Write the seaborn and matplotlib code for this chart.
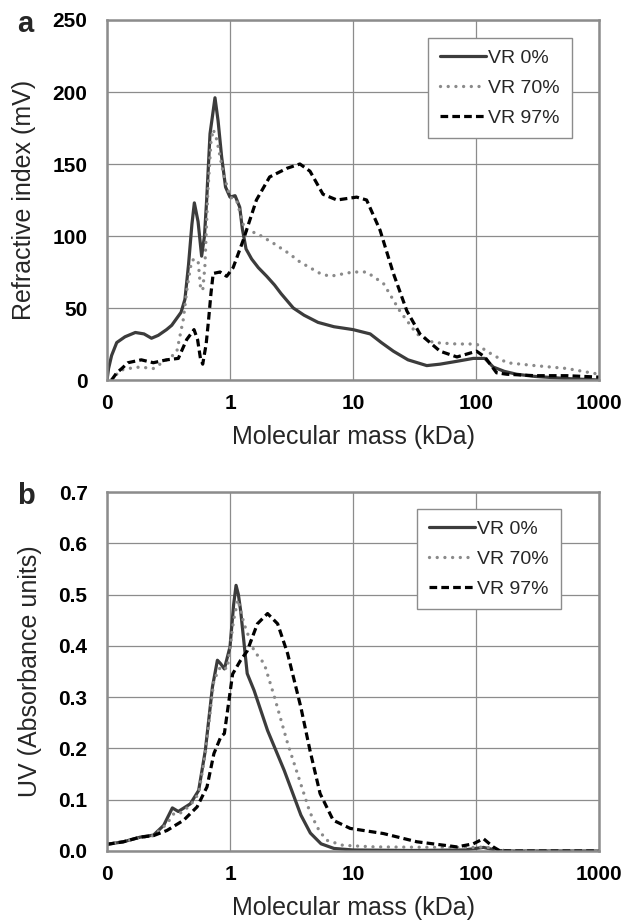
import matplotlib
matplotlib.use("Agg")
import matplotlib.pyplot as plt
import seaborn as sns
import numpy as np
from matplotlib.ticker import FixedLocator, FixedFormatter, MultipleLocator, FuncFormatter

# ---------------- data ----------------
series_labels = ["VR 0%", "VR 70%", "VR 97%"]
x_tick_values = [0.1, 1, 10, 100, 1000]
x_tick_labels = ["0", "1", "10", "100", "1000"]

# Panel a: refractive index (mV)
a_mass_0 = [0.1, 0.103, 0.109, 0.12, 0.14, 0.17, 0.2, 0.23, 0.261, 0.305, 0.336, 0.40, 0.43,
            0.46, 0.49, 0.513, 0.55, 0.588, 0.62, 0.646, 0.688, 0.755, 0.8, 0.855, 0.92, 1.0,
            1.1, 1.2, 1.26, 1.35, 1.5, 1.7, 1.99, 2.3, 2.6, 3.27, 4.0, 5.2, 7.0, 10.0, 13.8, 17.0,
            21.3, 28.0, 39.8, 51.0, 70.0, 95.0, 118.0, 138.0, 170.0, 214.0, 300.0, 546.0, 1000.0]
a_ri_0 = [0, 8, 17, 26, 30, 33, 32, 29, 31, 35, 38, 47, 56,
          80, 108, 123, 110, 86, 100, 125, 171, 196, 180, 155, 134, 127,
          128, 120, 105, 91, 84, 78, 72, 66, 60, 50, 45, 40, 37, 35, 32, 26,
          20, 14, 10, 11, 13, 15, 15, 9, 6, 4, 2.5, 1, 0]

a_mass_70 = [0.109, 0.12, 0.132, 0.15, 0.185, 0.238, 0.305, 0.368, 0.417, 0.45, 0.488, 0.52,
             0.55, 0.575, 0.6, 0.625, 0.66, 0.7, 0.73, 0.78, 0.88, 1.0, 1.13, 1.32, 1.64, 2.25,
             3.0, 3.7, 5.4, 6.5, 10.0, 12.9, 17.7, 24.0, 33.0, 45.0, 70.0, 101.0, 122.0, 178.0,
             300.0, 546.0, 1000.0]
a_ri_70 = [0, 4, 7, 8, 9, 8, 14, 19, 42, 65, 83, 84,
           83, 65, 62, 79, 130, 165, 174, 167, 144, 127, 125, 104, 102, 95,
           88, 82, 74, 72, 75, 75, 67, 48, 32, 26, 25, 25, 20, 12,
           10, 8, 4]

a_mass_97 = [0.109, 0.12, 0.132, 0.148, 0.19, 0.238, 0.305, 0.38, 0.444, 0.51, 0.545, 0.575,
             0.60, 0.64, 0.67, 0.7, 0.73, 0.83, 0.94, 1.06, 1.28, 1.64, 2.1, 2.9, 3.7, 4.47,
             5.7, 7.4, 10.7, 12.9, 16.6, 21.3, 27.4, 35.0, 51.0, 70.0, 101.0, 118.0, 147.0,
             178.0, 300.0, 546.0, 1000.0]
a_ri_97 = [0, 5, 8, 12, 14, 12, 14, 15, 28, 35, 28, 15,
           11, 25, 42, 60, 74, 75, 72, 78, 97, 125, 141, 147, 150, 145,
           129, 125, 127, 125, 104, 74, 48, 32, 20, 16, 20, 16, 5,
           4, 3, 3, 2]

# Panel b: UV absorbance
b_mass_0 = [0.1, 0.136, 0.186, 0.239, 0.289, 0.34, 0.38, 0.476, 0.556, 0.63, 0.72, 0.79,
            0.84, 0.9, 1.0, 1.07, 1.12, 1.17, 1.22, 1.38, 1.57, 2.02, 2.76, 3.77, 4.5, 5.5,
            7.0, 10.0, 30.0, 80.0, 115.0, 150.0, 200.0, 1000.0]
b_uv_0 = [0.013, 0.018, 0.027, 0.031, 0.05, 0.084, 0.077, 0.092, 0.118, 0.196, 0.32, 0.372,
          0.365, 0.355, 0.398, 0.48, 0.518, 0.5, 0.469, 0.346, 0.313, 0.235, 0.157, 0.07, 0.035,
          0.014, 0.005, 0.002, 0.001, 0.002, 0.007, 0.001, 0.0, 0.0]

b_mass_70 = [0.1, 0.136, 0.186, 0.239, 0.307, 0.35, 0.39, 0.476, 0.556, 0.63, 0.74, 0.84,
             0.95, 1.07, 1.16, 1.3, 1.57, 1.9, 2.3, 2.94, 3.77, 4.47, 5.3, 6.1, 8.3, 15.0,
             50.0, 100.0, 120.0, 150.0, 200.0, 1000.0]
b_uv_70 = [0.013, 0.018, 0.026, 0.03, 0.053, 0.073, 0.073, 0.089, 0.112, 0.19, 0.333, 0.36,
           0.355, 0.45, 0.49, 0.443, 0.39, 0.365, 0.3, 0.21, 0.13, 0.075, 0.04, 0.021, 0.011,
           0.008, 0.007, 0.007, 0.008, 0.002, 0.0, 0.0]

b_mass_97 = [0.1, 0.136, 0.186, 0.239, 0.307, 0.42, 0.54, 0.65, 0.74, 0.84, 0.9, 1.05, 1.22,
             1.38, 1.67, 2.02, 2.44, 2.94, 3.77, 4.47, 5.4, 6.9, 9.5, 17.7, 33.0, 70.0, 95.0,
             115.0, 138.0, 157.0, 200.0, 1000.0]
b_uv_97 = [0.013, 0.018, 0.027, 0.03, 0.04, 0.06, 0.086, 0.125, 0.19, 0.222, 0.229, 0.345,
           0.372, 0.39, 0.443, 0.463, 0.443, 0.385, 0.28, 0.196, 0.112, 0.06, 0.044, 0.034,
           0.018, 0.008, 0.014, 0.024, 0.008, 0.0, 0.0, 0.0]

# ---------------- style ----------------
sns.set_style("white")
plt.rcParams["font.family"] = ["Liberation Sans", "DejaVu Sans"]

GRID = "#8c8c8c"
styles = [
    dict(color="#3c3c3c", lw=2.3, linestyle="-"),
    dict(color="#8a8a8a", lw=2.4, linestyle=(0, (0.01, 2.3)), dash_capstyle="round"),
    dict(color="#000000", lw=2.3, linestyle=(0, (2.4, 1.3))),
]

fig = plt.figure(figsize=(6.23, 9.24), dpi=100)
ax_a = fig.add_axes([107 / 623, 1 - 380 / 924, (599 - 107) / 623, (380 - 20) / 924])
ax_b = fig.add_axes([107 / 623, 1 - 851 / 924, (599 - 107) / 623, (851 - 492) / 924])


def draw(ax, xs_list, ys_list, ymax, ymajor, yminor, yfmt, ylabel, letter, legend_bbox):
    for xs, ys, lab, st in zip(xs_list, ys_list, series_labels, styles):
        sns.lineplot(x=xs, y=ys, ax=ax, label=lab, sort=False, estimator=None, **st)
    ax.set_xscale("log")
    ax.set_xlim(0.1, 1000)
    ax.set_ylim(0, ymax)
    ax.xaxis.set_major_locator(FixedLocator(x_tick_values))
    ax.xaxis.set_major_formatter(FixedFormatter(x_tick_labels))
    minors = [m * 10.0 ** e for e in range(-1, 3) for m in range(2, 10)]
    ax.xaxis.set_minor_locator(FixedLocator(minors))
    ax.yaxis.set_major_locator(MultipleLocator(ymajor))
    ax.yaxis.set_minor_locator(MultipleLocator(yminor))
    ax.yaxis.set_major_formatter(FuncFormatter(lambda v, p: yfmt.format(v)))
    ax.grid(True, which="major", color=GRID, lw=0.9)
    for s in ax.spines.values():
        s.set_color(GRID)
        s.set_linewidth(1.8)
        s.set_visible(True)
    ax.tick_params(axis="both", which="both", direction="in", colors=GRID,
                   labelcolor="black")
    ax.tick_params(axis="both", which="major", length=0)
    ax.tick_params(axis="both", which="minor", length=4, width=1)
    ax.tick_params(axis="y", which="major", pad=14)
    ax.tick_params(axis="x", which="major", pad=10)
    for t in ax.get_xticklabels() + ax.get_yticklabels():
        t.set_fontweight("bold")
        t.set_fontsize(15)
    ax.set_xlabel("Molecular mass (kDa)", fontsize=18, labelpad=9)
    ax.set_ylabel(ylabel, fontsize=18, labelpad=12)
    ax.set_axisbelow(True)
    leg = ax.legend(loc="upper left", bbox_to_anchor=legend_bbox, fontsize=14,
                    frameon=True, fancybox=False, framealpha=1, edgecolor=GRID,
                    handlelength=2.4, handletextpad=0.1, labelspacing=0.62,
                    borderpad=0.6, borderaxespad=0)
    leg.get_frame().set_linewidth(1.0)
    ax.text(-0.183, 1 - 12.5 / 360, letter, transform=ax.transAxes, fontsize=21,
            fontweight="bold", ha="left", va="baseline")


draw(ax_a, [a_mass_0, a_mass_70, a_mass_97], [a_ri_0, a_ri_70, a_ri_97],
     250, 50, 10, "{:.0f}", "Refractive index (mV)", "a",
     ((428 - 107) / 492, (380 - 38) / 360))
draw(ax_b, [b_mass_0, b_mass_70, b_mass_97], [b_uv_0, b_uv_70, b_uv_97],
     0.7, 0.1, 0.025, "{:.1f}", "UV (Absorbance units)", "b",
     ((417 - 107) / 492, (851 - 509) / 359))

fig.savefig("out.png", dpi=100)
